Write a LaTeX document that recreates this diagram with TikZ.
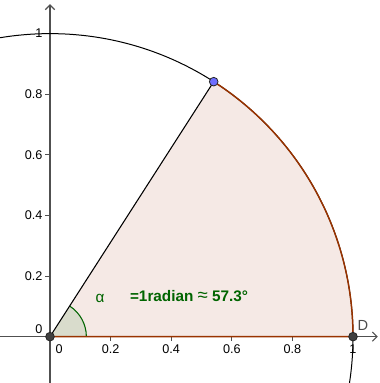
\documentclass[tikz,border=0pt]{standalone}
\usepackage{fontspec}
\setmainfont{Liberation Sans}
\usetikzlibrary{arrows.meta}
\definecolor{ggbgreen}{RGB}{0,100,0}
\definecolor{ggbbrown}{RGB}{153,51,0}
\definecolor{sectorfill}{RGB}{245,233,229}
\definecolor{anglefill}{RGB}{217,220,204}
\definecolor{axisgray}{RGB}{80,80,80}
\tikzset{
  axislabel/.style={font=\fontsize{9.5}{11}\selectfont, inner sep=1pt},
  ggbpoint/.style={draw=black!85, line width=0.6pt, circle, inner sep=0pt, minimum size=6.5pt},
  axisline/.style={axisgray, line width=0.9pt, -{Straight Barb[length=3.5pt,width=7pt]}},
}

\begin{document}
\begin{tikzpicture}[x=8cm,y=8cm]
\useasboundingbox (-0.165,-0.153) rectangle (1.086,1.111);
\clip (-0.165,-0.153) rectangle (1.086,1.111);
\coordinate (O) at (0,0);
\coordinate (D) at (1,0);
\coordinate (P) at ({cos(deg(1))},{sin(deg(1))});
% sector and angle
\fill[sectorfill] (O) -- (D) arc[start angle=0, end angle=57.2958, radius=1] -- cycle;
\fill[anglefill] (O) -- (0.12,0) arc[start angle=0, end angle=57.2958, radius=0.12] -- cycle;
\draw[ggbgreen, line width=0.8pt] (0.12,0) arc[start angle=0, end angle=57.2958, radius=0.12];
% axes
\draw[axisline] (-0.165,0) -- (1.082,0);
\draw[axisline] (0,-0.153) -- (0,1.097);
\foreach \t in {0.2,0.4,0.6,0.8,1} {
  \draw[axisgray, line width=0.7pt] (\t,0) -- (\t,-0.016);
  \draw[axisgray, line width=0.7pt] (0,\t) -- (-0.016,\t);
  \node[axislabel, anchor=north] (x\t) at (\t,-0.022) {\t};
  \node[axislabel, anchor=east] (y\t) at (-0.02,\t) {\t};
}
\node[axislabel, anchor=north] (x0) at (0.03,-0.022) {0};
\node[axislabel, anchor=east] (y0) at (-0.02,0.024) {0};
% circle, sector edges
\draw[black, line width=0.75pt] (O) circle[radius=1];
\draw[ggbbrown, line width=1.1pt] (O) -- (D) arc[start angle=0, end angle=57.2958, radius=1];
\draw[black, line width=0.8pt] (O) -- (P);
% labels
\node[text=ggbgreen, font=\fontsize{11.5}{13}\selectfont] (alpha) at (0.165,0.125) {α};
\node[text=ggbgreen, font=\bfseries\fontsize{11.5}{13}\selectfont] (rad) at (0.459,0.134) {=1radian {\mdseries\fontsize{14}{13}\selectfont ≈} 57.3°};
\node[text=black!70, font=\fontsize{11}{13}\selectfont] (Dlab) at (1.033,0.038) {D};
% points
\node[ggbpoint, fill=black!75] (o) at (O) {};
\node[ggbpoint, fill=black!75] (d) at (D) {};
\node[ggbpoint, fill={rgb,255:red,110;green,110;blue,255}] (p) at (P) {};
\end{tikzpicture}
\end{document}
